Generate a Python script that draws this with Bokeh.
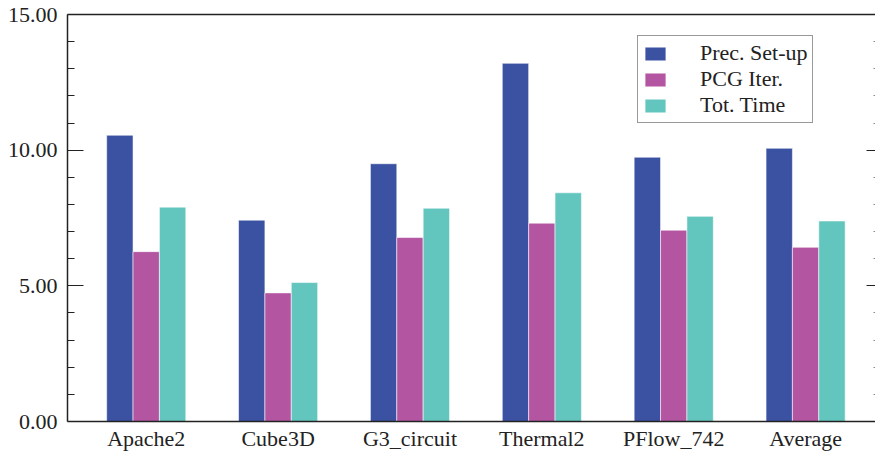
import numpy as np
from bokeh.plotting import figure
from bokeh.models import (Range1d, LinearAxis, FixedTicker, ColumnDataSource,
                          Legend, LegendItem, PrintfTickFormatter)
from bokeh.transform import dodge
from bokeh.embed import file_html
from bokeh.resources import INLINE

categories = ["Apache2", "Cube3D", "G3_circuit", "Thermal2", "PFlow_742", "Average"]
prec_setup = [10.55, 7.42, 9.50, 13.20, 9.74, 10.07]
pcg_iter = [6.26, 4.74, 6.78, 7.31, 7.05, 6.42]
tot_time = [7.90, 5.12, 7.86, 8.43, 7.56, 7.39]
series_names = ["Prec. Set-up", "PCG Iter.", "Tot. Time"]
colors = ["#3B51A1", "#B455A2", "#63C6BE"]
y_major_ticks = [0, 5, 10, 15]
y_minor_ticks = [1, 2, 3, 4, 6, 7, 8, 9, 11, 12, 13, 14]

FONT = "Liberation Serif"
TXT = "#222222"
FS = "22px"

xpos = list(range(len(categories)))
src = ColumnDataSource(dict(x=xpos, prec=prec_setup, pcg=pcg_iter, tot=tot_time))

p = figure(width=875, height=453, x_range=Range1d(-0.597, 5.53), y_range=Range1d(0, 15),
           output_backend="svg", toolbar_location=None,
           min_border_left=67, min_border_right=0, min_border_top=14, min_border_bottom=31,
           outline_line_color=None, background_fill_color="white")
p.xgrid.visible = False
p.ygrid.visible = False

renderers = []
for field, off, col in zip(["prec", "pcg", "tot"], [-0.2, 0.0, 0.2], colors):
    r = p.vbar(x=dodge("x", off), top=field, width=0.2, source=src,
               fill_color=col, line_color="white", line_alpha=0.55, line_width=1)
    renderers.append(r)

# x axis
xa = p.xaxis[0]
xa.ticker = FixedTicker(ticks=xpos)
xa.major_label_overrides = {i: c for i, c in zip(xpos, categories)}
xa.major_tick_line_color = None
xa.minor_tick_line_color = None
xa.major_tick_out = 0
xa.major_tick_in = 0
xa.axis_line_color = TXT
xa.axis_line_width = 1.5
xa.major_label_text_font = FONT
xa.major_label_text_font_size = FS
xa.major_label_text_color = TXT
xa.major_label_standoff = 4

# y axis
ya = p.yaxis[0]
ya.ticker = FixedTicker(ticks=y_major_ticks, minor_ticks=y_minor_ticks)
ya.formatter = PrintfTickFormatter(format="%.2f")
ya.major_tick_in = 16
ya.major_tick_out = 0
ya.minor_tick_in = 7
ya.minor_tick_out = 0
ya.axis_line_color = TXT
ya.axis_line_width = 1.5
ya.major_tick_line_color = TXT
ya.minor_tick_line_color = TXT
ya.major_label_text_font = FONT
ya.major_label_text_font_size = FS
ya.major_label_text_color = TXT
ya.major_label_standoff = 10

# top spine
ta = LinearAxis(ticker=FixedTicker(ticks=[]),
                major_tick_line_color=None, minor_tick_line_color=None,
                major_tick_out=0, major_label_standoff=0,
                axis_line_color=TXT, axis_line_width=1.5)
p.add_layout(ta, "above")

# right ticks (spine lies beyond page edge)
ra = LinearAxis(ticker=FixedTicker(ticks=y_major_ticks, minor_ticks=y_minor_ticks),
                major_label_overrides={t: "" for t in y_major_ticks},
                major_label_text_font_size="1px", axis_line_color=None,
                major_tick_in=9, major_tick_out=0, minor_tick_in=2, minor_tick_out=0,
                major_tick_line_color=TXT, minor_tick_line_color="#888888",
                major_label_standoff=0)
p.add_layout(ra, "right")

items = [LegendItem(label=n, renderers=[r]) for n, r in zip(series_names, renderers)]
legend = Legend(items=items, location=(570, 298),
                label_text_font=FONT, label_text_font_size=FS, label_text_color=TXT,
                glyph_width=26, glyph_height=17, label_standoff=32, label_height=20,
                spacing=0, padding=4, margin=0,
                border_line_color="#333333", border_line_width=1,
                background_fill_color="white", background_fill_alpha=1.0)
p.add_layout(legend, "center")

open("out.html", "w").write(file_html(p, INLINE))
